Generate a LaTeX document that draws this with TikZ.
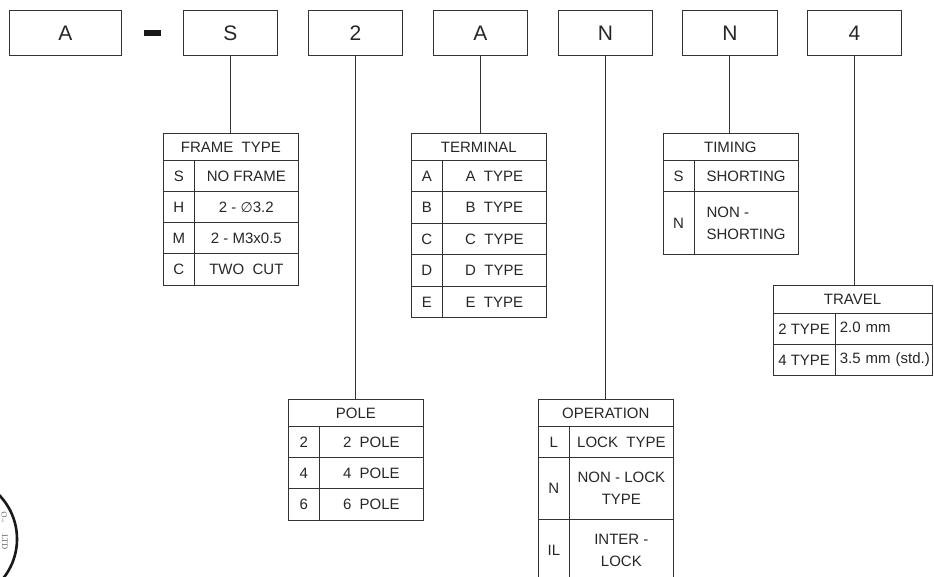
\documentclass[tikz,border=0pt]{standalone}
\usepackage{fontspec}
\setmainfont{Liberation Sans}
\newfontfamily\symbolfont{DejaVu Sans}
\newfontfamily\stampfont{Liberation Serif}
\usepackage{tikz}
\definecolor{inkgray}{gray}{0.2}
\tikzset{
    topbox/.style={draw=inkgray, line width=0.7pt, inner sep=0pt, anchor=north west, minimum height=45pt, text=black!85, font=\fontsize{21}{24}\selectfont},
    cell/.style={draw=inkgray, line width=0.7pt, inner sep=0pt, anchor=north west, align=center, text=black!85, font=\fontsize{15}{22}\selectfont},
    leftcell/.style={cell, align=left, inner xsep=4.5pt, text width=88pt, text height=11pt, text depth=3pt},
    link/.style={draw=inkgray, line width=0.8pt}
}
\begin{document}
\begin{tikzpicture}[x=1pt, y=-1pt]
            \useasboundingbox (0, 0) rectangle (934, 576);
            % code boxes along the top
            \node[topbox, minimum width=112pt] (boxa) at (9, 10) {A};
            \node[topbox, minimum width=94pt] (boxs) at (183, 10) {S};
            \node[topbox, minimum width=94pt] (boxpole) at (308, 10) {2};
            \node[topbox, minimum width=94pt] (boxterm) at (433, 10) {A};
            \node[topbox, minimum width=94pt] (boxop) at (558, 10) {N};
            \node[topbox, minimum width=95pt] (boxtime) at (682, 10) {N};
            \node[topbox, minimum width=94pt] (boxtravel) at (807, 10) {4};
            \fill[black!90] (144, 30) rectangle (161, 36);
            % frame type
            \node[cell, minimum width=135pt, minimum height=27pt] (frame) at (163, 133) {FRAME\ \ TYPE};
            \node[cell, minimum width=31pt, minimum height=31pt] (frames) at (163, 160) {S};
            \node[cell, minimum width=104pt, minimum height=31pt] (framesv) at (194, 160) {NO FRAME};
            \node[cell, minimum width=31pt, minimum height=31pt] (frameh) at (163, 191) {H};
            \node[cell, minimum width=104pt, minimum height=31pt] (framehv) at (194, 191) {2 - {\symbolfont\fontsize{14}{22}\selectfont ∅}3.2};
            \node[cell, minimum width=31pt, minimum height=31pt] (framem) at (163, 222) {M};
            \node[cell, minimum width=104pt, minimum height=31pt] (framemv) at (194, 222) {2 - M3x0.5};
            \node[cell, minimum width=31pt, minimum height=32pt] (framec) at (163, 253) {C};
            \node[cell, minimum width=104pt, minimum height=32pt] (framecv) at (194, 253) {TWO\ \ CUT};
            % terminal
            \node[cell, minimum width=135pt, minimum height=27pt] (term) at (411, 133) {TERMINAL};
            \node[cell, minimum width=31pt, minimum height=31pt] (terma) at (411, 160) {A};
            \node[cell, minimum width=104pt, minimum height=31pt] (termav) at (442, 160) {A\ \ TYPE};
            \node[cell, minimum width=31pt, minimum height=32pt] (termb) at (411, 191) {B};
            \node[cell, minimum width=104pt, minimum height=32pt] (termbv) at (442, 191) {B\ \ TYPE};
            \node[cell, minimum width=31pt, minimum height=31pt] (termc) at (411, 223) {C};
            \node[cell, minimum width=104pt, minimum height=31pt] (termcv) at (442, 223) {C\ \ TYPE};
            \node[cell, minimum width=31pt, minimum height=32pt] (termd) at (411, 254) {D};
            \node[cell, minimum width=104pt, minimum height=32pt] (termdv) at (442, 254) {D\ \ TYPE};
            \node[cell, minimum width=31pt, minimum height=31pt] (terme) at (411, 286) {E};
            \node[cell, minimum width=104pt, minimum height=31pt] (termev) at (442, 286) {E\ \ TYPE};
            % pole
            \node[cell, minimum width=135pt, minimum height=27pt] (pole) at (288, 399) {POLE};
            \node[cell, minimum width=31pt, minimum height=31pt] (pole2) at (288, 426) {2};
            \node[cell, minimum width=104pt, minimum height=31pt] (pole2v) at (319, 426) {2\ \ POLE};
            \node[cell, minimum width=31pt, minimum height=31pt] (pole4) at (288, 457) {4};
            \node[cell, minimum width=104pt, minimum height=31pt] (pole4v) at (319, 457) {4\ \ POLE};
            \node[cell, minimum width=31pt, minimum height=32pt] (pole6) at (288, 488) {6};
            \node[cell, minimum width=104pt, minimum height=32pt] (pole6v) at (319, 488) {6\ \ POLE};
            % operation
            \node[cell, minimum width=135pt, minimum height=27pt] (oper) at (538, 399) {OPERATION};
            \node[cell, minimum width=31pt, minimum height=31pt] (operl) at (538, 426) {L};
            \node[cell, minimum width=104pt, minimum height=31pt] (operlv) at (569, 426) {LOCK\ \ TYPE};
            \node[cell, minimum width=31pt, minimum height=62pt] (opern) at (538, 457) {N};
            \node[cell, minimum width=104pt, minimum height=62pt] (opernv) at (569, 457) {NON - LOCK\\TYPE};
            \node[cell, minimum width=31pt, minimum height=62pt] (operil) at (538, 519) {IL};
            \node[cell, minimum width=104pt, minimum height=62pt] (operilv) at (569, 519) {INTER -\\LOCK};
            % timing
            \node[cell, minimum width=135pt, minimum height=27pt] (timing) at (662.5, 133) {TIMING};
            \node[cell, minimum width=31.5pt, minimum height=31pt] (timings) at (662.5, 160) {S};
            \node[cell, minimum width=103.5pt, minimum height=31pt] (timingsv) at (694, 160) {SHORTING};
            \node[cell, minimum width=31.5pt, minimum height=63pt] (timingn) at (662.5, 191) {N};
            \node[cell, minimum width=103.5pt, minimum height=63pt, align=left] (timingnv) at (694, 191) {NON -\\SHORTING};
            % travel
            \node[cell, minimum width=159.5pt, minimum height=28pt] (travel) at (772.5, 285) {TRAVEL};
            \node[cell, minimum width=62.5pt, minimum height=31pt] (travel2) at (772.5, 313) {2 TYPE};
            \node[leftcell, minimum height=31pt] (travel2v) at (835, 313) {2.0 mm};
            \node[cell, minimum width=62.5pt, minimum height=31pt] (travel4) at (772.5, 344) {4 TYPE};
            \node[leftcell, minimum height=31pt] (travel4v) at (835, 344) {\mbox{3.5 mm (std.)}};
            % links from the code boxes to the tables
            \draw[link] (boxs.south) -- (frame.north -| boxs.south);
            \draw[link] (boxpole.south) -- (pole.north -| boxpole.south);
            \draw[link] (boxterm.south) -- (term.north -| boxterm.south);
            \draw[link] (boxop.south) -- (oper.north -| boxop.south);
            \draw[link] (boxtime.south) -- (timing.north -| boxtime.south);
            \draw[link] (boxtravel.south) -- (travel.north -| boxtravel.south);
            % stamp cut off by the corner
            \draw[black!90, line width=2.6pt] (-46, 539) circle (63);
            \node[rotate=-90, text=black!60, font=\stampfont\fontsize{8.5}{9}\selectfont] (stampltd) at (5, 542) {LTD};
            \node[rotate=-78, text=black!60, font=\stampfont\fontsize{8.5}{9}\selectfont, inner sep=0pt] (stampco) at (4, 517) {O.,};
        \end{tikzpicture}
\end{document}
